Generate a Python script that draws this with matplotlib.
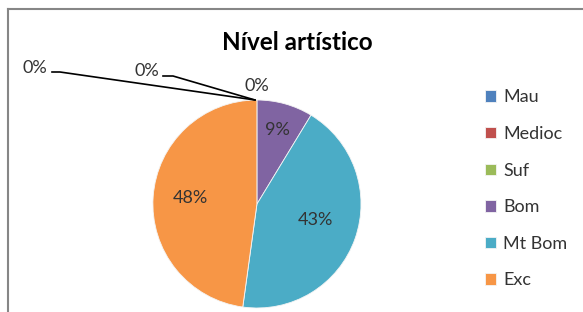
import matplotlib.pyplot as plt

categories = ['Mau', 'Medioc', 'Suf', 'Bom', 'Mt Bom', 'Exc']
counts = [0, 0, 0, 2, 10, 11]
colors = ['#4F81BD', '#C0504D', '#9BBB59', '#8064A2', '#4BACC6', '#F79646']
title = 'Nível artístico'

W, H = 583, 312
plt.rcParams['font.family'] = ['Lato', 'DejaVu Sans']

fig = plt.figure(figsize=(W / 100, H / 100), dpi=100)
ax = fig.add_axes([0, 0, 1, 1])
ax.set_xlim(0, W)
ax.set_ylim(0, H)
ax.set_aspect('equal')
ax.axis('off')

# pixel helper (y measured from top)
def px(x, y):
    return x, H - y

cx, cy = px(257, 204)
R = 104
explode = [0, 0, 0, 0, 0, 0.09]

wedges, texts, autotexts = ax.pie(counts, colors=colors, startangle=90, counterclock=False,
                                  center=(cx, cy), radius=R, explode=explode,
                                  autopct='%.0f%%', pctdistance=0.6,
                                  wedgeprops=dict(linewidth=0.6, edgecolor='#f4f4f4'),
                                  textprops=dict(fontsize=13, color='#333333'))
ax.set_xlim(0, W)
ax.set_ylim(0, H)

# label positions as Excel placed them
label_pos = [(35, 68), (147, 71), (257, 86), (277, 130), (315, 220), (190, 198)]
for t, (x, y) in zip(autotexts, label_pos):
    t.set_position(px(x, y))
    t.set_ha('center')
    t.set_va('center')

# leader lines for the two outer zero labels
top = px(255, 100)
for (x0, y0), (x1, y1) in [((52, 72), (60, 72)), ((163, 76), (173, 76))]:
    ax.plot([px(x0, y0)[0], px(x1, y1)[0], top[0]],
            [px(x0, y0)[1], px(x1, y1)[1], top[1]], color='black', lw=1.2)

ax.text(*px(297, 43), title, ha='center', va='center', fontsize=17.5, fontweight='bold')

leg = ax.legend(wedges, categories, loc='upper left', bbox_to_anchor=(485 / W, 1 - 89.5 / H),
                frameon=False, fontsize=13, handlelength=0.6, handleheight=0.6,
                handletextpad=0.4, labelspacing=1.14, borderpad=0, borderaxespad=0)
for t in leg.get_texts():
    t.set_color('#333333')

# chart border (top and left visible)
ax.plot([px(8, 9)[0], W], [px(8, 9)[1], px(8, 9)[1]], color='#868686', lw=1.5)
ax.plot([px(8, 9)[0], px(8, 9)[0]], [px(8, 9)[1], 0], color='#868686', lw=1.5)

fig.savefig('out.png', dpi=100)
